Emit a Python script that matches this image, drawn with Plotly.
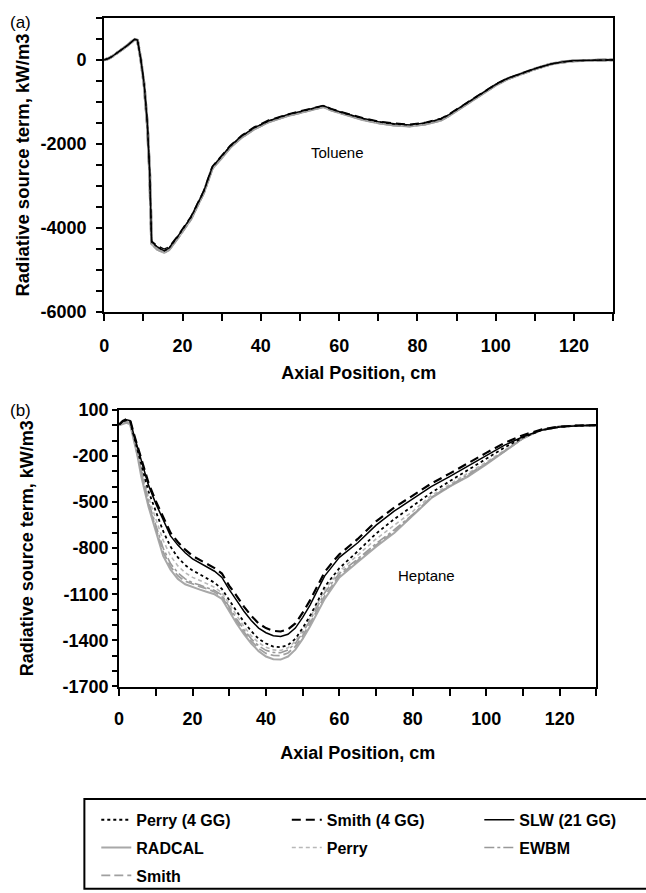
import plotly.graph_objects as go

W, H = 646, 893
FONT = "Liberation Sans, Arial, sans-serif"

series_names = ["Perry (4 GG)", "Smith (4 GG)", "SLW (21 GG)", "RADCAL", "Perry", "EWBM", "Smith"]

# ---------------- (a) Toluene ----------------
x_tol = [0, 1, 2, 3, 4, 5, 6, 7, 7.8, 8.5, 9.3, 10.2, 11, 11.6, 12.1, 13.6, 15.3, 16.5, 18.7, 22.1,
         25.4, 27.6, 30, 32.2, 35, 38.2, 42, 46.6, 50, 53, 56, 58, 61, 66, 70, 74, 78, 82, 86, 88,
         91, 94, 97, 100, 103, 107, 110, 114, 117, 120, 125, 130]
tol_perry4 = [0, 30, 80, 140, 210, 280, 350, 440, 490, 470, 40, -580, -1500, -2655, -4335, -4460, -4545, -4490, -4220, -3760,
              -3140, -2555, -2305, -2055, -1825, -1625, -1455, -1315, -1235, -1165, -1095, -1175, -1265, -1395, -1478, -1528, -1550, -1505, -1410, -1310,
              -1130, -945, -760, -588, -445, -312, -212, -101, -50, -20, -5, 0]
tol_smith4 = [0, 30, 80, 140, 210, 280, 350, 440, 495, 475, 50, -570, -1490, -2640, -4310, -4420, -4500, -4450, -4190, -3730,
              -3110, -2530, -2280, -2030, -1800, -1600, -1430, -1295, -1215, -1150, -1080, -1160, -1245, -1375, -1455, -1505, -1530, -1485, -1390, -1290,
              -1110, -925, -743, -573, -434, -305, -205, -98, -48, -19, -5, 0]
tol_slw = [0, 30, 80, 140, 210, 280, 350, 440, 490, 470, 40, -580, -1500, -2650, -4330, -4450, -4540, -4480, -4210, -3750,
           -3130, -2550, -2300, -2050, -1820, -1620, -1450, -1310, -1230, -1160, -1090, -1170, -1260, -1390, -1470, -1520, -1545, -1500, -1405, -1305,
           -1125, -940, -755, -583, -442, -310, -210, -100, -50, -20, -5, 0]
tol_radcal = [0, 28, 78, 138, 208, 278, 348, 438, 485, 465, 30, -600, -1520, -2680, -4370, -4510, -4580, -4520, -4250, -3790,
              -3160, -2580, -2330, -2080, -1850, -1650, -1475, -1335, -1255, -1185, -1115, -1195, -1285, -1420, -1500, -1555, -1575, -1530, -1435, -1330,
              -1145, -958, -773, -598, -454, -318, -216, -103, -52, -21, -5, 0]
tol_perry = [0, 29, 79, 139, 209, 279, 349, 439, 488, 468, 35, -590, -1510, -2670, -4355, -4490, -4565, -4505, -4235, -3775,
             -3150, -2570, -2318, -2068, -1838, -1638, -1465, -1325, -1245, -1175, -1105, -1185, -1275, -1408, -1488, -1540, -1562, -1518, -1423, -1320,
             -1137, -950, -765, -593, -449, -315, -214, -102, -51, -20, -5, 0]
tol_ewbm = [0, 29, 79, 139, 209, 279, 349, 439, 487, 467, 33, -593, -1513, -2673, -4360, -4500, -4570, -4510, -4240, -3780,
            -3153, -2573, -2322, -2072, -1842, -1642, -1468, -1328, -1248, -1178, -1108, -1188, -1278, -1412, -1492, -1545, -1567, -1522, -1427, -1323,
            -1140, -953, -768, -595, -451, -316, -215, -102, -51, -21, -5, 0]
tol_smith = [0, 28, 78, 138, 208, 278, 348, 438, 486, 466, 32, -596, -1516, -2676, -4365, -4505, -4575, -4515, -4245, -3785,
             -3156, -2576, -2326, -2076, -1846, -1646, -1472, -1332, -1252, -1182, -1112, -1192, -1282, -1416, -1496, -1550, -1571, -1526, -1431, -1326,
             -1142, -955, -770, -597, -452, -317, -216, -103, -52, -21, -5, 0]

# ---------------- (b) Heptane ----------------
x_hep = [0, 1, 2, 3, 4, 5, 6, 7, 8,
         10, 12, 14, 16, 18, 20, 22, 24, 26, 28,
         30, 32, 34, 36, 38, 40, 42, 44, 46, 48,
         50, 52, 54, 56, 58, 60,
         65, 70, 75, 80, 85, 90, 95, 100, 105, 110, 115, 120, 125, 130]
hep_perry4 = [5, 22, 32, 25, -70, -160, -260, -340, -430,
              -560, -690, -790, -860, -910, -945, -970, -995, -1025, -1065,
              -1140, -1210, -1280, -1340, -1390, -1420, -1440, -1445, -1430, -1390,
              -1320, -1240, -1150, -1050, -990, -930,
              -820, -705, -610, -525, -440, -365, -290, -220, -145, -80, -33, -11, -3, 0]
hep_smith4 = [5, 28, 40, 35, -55, -135, -220, -290, -375,
              -495, -600, -700, -760, -810, -850, -875, -900, -930, -965,
              -1045, -1110, -1180, -1240, -1290, -1320, -1338, -1342, -1328, -1290,
              -1220, -1140, -1050, -955, -895, -840,
              -740, -625, -535, -458, -380, -315, -245, -180, -115, -65, -28, -9, -2, 0]
hep_slw = [5, 25, 35, 30, -60, -140, -230, -300, -390,
           -510, -620, -720, -780, -830, -870, -895, -920, -950, -990,
           -1070, -1140, -1210, -1270, -1320, -1350, -1370, -1375, -1360, -1320,
           -1250, -1170, -1080, -980, -920, -860,
           -765, -650, -558, -480, -400, -335, -265, -198, -130, -75, -33, -11, -3, 0]
hep_radcal = [0, 10, 15, 5, -90, -200, -330, -440, -530,
              -690, -850, -940, -1000, -1035, -1055, -1070, -1085, -1100, -1130,
              -1210, -1290, -1360, -1420, -1470, -1505, -1522, -1525, -1505, -1460,
              -1390, -1310, -1220, -1130, -1060, -990,
              -890, -790, -700, -590, -475, -400, -335, -255, -170, -85, -30, -8, -2, 0]
hep_perry = [2, 18, 25, 18, -80, -180, -290, -380, -470,
             -610, -750, -850, -915, -960, -990, -1010, -1030, -1055, -1090,
             -1165, -1240, -1310, -1370, -1415, -1445, -1462, -1465, -1448, -1405,
             -1335, -1255, -1165, -1070, -1010, -950,
             -845, -740, -650, -560, -458, -385, -315, -240, -162, -85, -32, -10, -2, 0]
hep_ewbm = [2, 15, 20, 12, -85, -190, -310, -410, -500,
            -650, -800, -900, -960, -1000, -1025, -1040, -1055, -1075, -1105,
            -1185, -1260, -1330, -1390, -1435, -1465, -1478, -1480, -1462, -1420,
            -1350, -1270, -1180, -1090, -1025, -965,
            -870, -770, -680, -580, -470, -395, -325, -248, -168, -86, -30, -9, -2, 0]
hep_smith = [0, 12, 18, 8, -88, -195, -320, -425, -515,
             -670, -825, -920, -980, -1015, -1035, -1050, -1065, -1085, -1115,
             -1195, -1275, -1345, -1405, -1452, -1485, -1498, -1500, -1482, -1440,
             -1370, -1290, -1200, -1110, -1045, -978,
             -880, -780, -690, -585, -472, -398, -330, -252, -170, -86, -30, -8, -2, 0]

# tick labels
x_ticks = [0, 20, 40, 60, 80, 100, 120]
y_ticks_a = [0, -2000, -4000, -6000]
y_ticks_b = [100, -200, -500, -800, -1100, -1400, -1700]

tol_data = dict(zip(series_names, [tol_perry4, tol_smith4, tol_slw, tol_radcal, tol_perry, tol_ewbm, tol_smith]))
hep_data = dict(zip(series_names, [hep_perry4, hep_smith4, hep_slw, hep_radcal, hep_perry, hep_ewbm, hep_smith]))

styles = {
    "Perry (4 GG)": dict(color="black", dash="3px,3px", width=1.8),
    "Smith (4 GG)": dict(color="black", dash="9px,5px", width=2.2),
    "SLW (21 GG)": dict(color="black", dash="solid", width=1.5),
    "RADCAL": dict(color="#a8a8a8", dash="solid", width=2.0),
    "Perry": dict(color="#b8b8b8", dash="4px,3px", width=1.6),
    "EWBM": dict(color="#999999", dash="10px,3px,3px,3px", width=1.6),
    "Smith": dict(color="#a0a0a0", dash="9px,4px", width=1.8),
}
# legend column (three columns in a shared frame) for each series
legend_col = {"Perry (4 GG)": "legend", "RADCAL": "legend", "Smith": "legend",
              "Smith (4 GG)": "legend2", "Perry": "legend2",
              "SLW (21 GG)": "legend3", "EWBM": "legend3"}
draw_order = ["RADCAL", "Perry", "EWBM", "Smith", "Perry (4 GG)", "Smith (4 GG)", "SLW (21 GG)"]

fig = go.Figure()
for name in draw_order:
    st = styles[name]
    w_top = 2.8 if st["color"] != "black" else 1.3
    fig.add_trace(go.Scatter(x=x_tol, y=tol_data[name], mode="lines", name=name, showlegend=False,
                             line=dict(color=st["color"], dash=st["dash"], width=w_top),
                             xaxis="x", yaxis="y"))
for name in draw_order:
    st = styles[name]
    fig.add_trace(go.Scatter(x=x_hep, y=hep_data[name], mode="lines", name=name, showlegend=True,
                             legend=legend_col[name], legendgroup=name,
                             legendrank=series_names.index(name) + 1,
                             line=dict(color=st["color"], dash=st["dash"], width=st["width"]),
                             xaxis="x2", yaxis="y2"))


def fx(px):
    return px / W


def fy(py):
    return 1 - py / H


tickfont = dict(family=FONT, size=18, color="black", weight="bold")
titlefont = dict(family=FONT, size=18, color="black", weight="bold")
common = dict(showline=True, linecolor="black", linewidth=2, mirror=True, ticks="outside",
              tickwidth=1.5, tickcolor="black", showgrid=False, zeroline=False, tickfont=tickfont)


def minor(d, t0, ln):
    return dict(ticks="outside", ticklen=ln, tickwidth=1.5, tickcolor="black", dtick=d, tick0=t0, showgrid=False)


legend_font = dict(family=FONT, size=16, color="black", weight="bold")


def legend_at(px_left):
    return dict(orientation="v", x=fx(px_left), xanchor="left", y=fy(811), yanchor="top",
                borderwidth=0, bgcolor="rgba(0,0,0,0)", font=legend_font, tracegroupgap=4,
                itemwidth=30, traceorder="grouped")


fig.update_layout(
    width=W, height=H, margin=dict(l=0, r=0, t=0, b=0),
    paper_bgcolor="white", plot_bgcolor="white",
    font=dict(family=FONT, color="black"),
    xaxis=dict(domain=[fx(100), fx(613)], range=[0, 130], anchor="y", tickmode="array",
               tickvals=x_ticks, ticktext=[str(v) for v in x_ticks], minor=minor(10, 0, 7), ticklen=7,
               ticklabelstandoff=9,
               title=dict(text="Axial Position, cm", font=titlefont, standoff=12), **common),
    yaxis=dict(domain=[fy(309), fy(8)], range=[-6000, 1000], anchor="x", tickmode="array",
               tickvals=y_ticks_a, ticktext=[str(v) for v in y_ticks_a], minor=minor(500, 0, 6), ticklen=6,
               ticklabelstandoff=6,
               title=dict(text="Radiative source term, kW/m3", font=dict(titlefont, size=18.5), standoff=6), **common),
    xaxis2=dict(domain=[fx(115), fx(596)], range=[0, 130], anchor="y2", tickmode="array",
                tickvals=x_ticks, ticktext=[str(v) for v in x_ticks], minor=minor(10, 0, 7), ticklen=7,
                ticklabelstandoff=8,
                title=dict(text="Axial Position, cm", font=titlefont, standoff=18), **common),
    yaxis2=dict(domain=[fy(692), fy(409)], range=[-1700, 100], anchor="x2", tickmode="array",
                tickvals=y_ticks_b, ticktext=[str(v) for v in y_ticks_b], minor=minor(100, 100, 5), ticklen=5,
                title=dict(text="Radiative source term, kW/m3", font=dict(titlefont, size=18), standoff=24), **common),
    legend=legend_at(92),
    legend2=legend_at(284),
    legend3=legend_at(478),
    shapes=[dict(type="rect", xref="paper", yref="paper", x0=fx(80), x1=fx(652), y0=fy(899), y1=fy(807),
                 line=dict(color="black", width=2), fillcolor="rgba(0,0,0,0)", layer="below")],
    annotations=[
        dict(text="Toluene", x=59.5, y=-2210, xref="x", yref="y", showarrow=False,
             font=dict(family=FONT, size=15, color="black")),
        dict(text="Heptane", x=83.6, y=-980, xref="x2", yref="y2", showarrow=False,
             font=dict(family=FONT, size=15, color="black")),
        dict(text="(a)", x=fx(3), y=fy(13), xref="paper", yref="paper", xanchor="left", yanchor="middle",
             showarrow=False, font=dict(family=FONT, size=17, color="black")),
        dict(text="(b)", x=fx(3), y=fy(410), xref="paper", yref="paper", xanchor="left", yanchor="middle",
             showarrow=False, font=dict(family=FONT, size=17, color="black")),
    ],
)

fig.write_html("out.html")
